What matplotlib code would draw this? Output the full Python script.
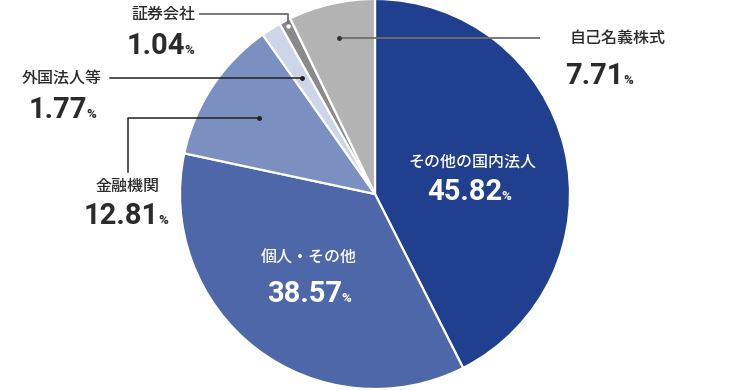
import numpy as np
import matplotlib
matplotlib.use("Agg")
import matplotlib.pyplot as plt

labels = ["その他の国内法人", "個人・その他", "金融機関", "外国法人等", "証券会社", "自己名義株式"]
values = [45.82, 38.57, 12.81, 1.77, 1.04, 7.71]
value_text = ["45.82", "38.57", "12.81", "1.77", "1.04", "7.71"]
colors = ["#213f8f", "#4e67a8", "#7b8fc0", "#cdd5e8", "#8a8a8a", "#b3b3b3"]

W, H = 750, 390
fig = plt.figure(figsize=(7.5, 3.9), dpi=100)
ax = fig.add_axes([0, 0, 1, 1])

cx, cy, R = 375, H - 194, 195
wedges, _ = ax.pie(values, colors=colors, startangle=90, counterclock=False,
                   center=(cx, cy), radius=R, frame=True,
                   wedgeprops=dict(edgecolor="white", linewidth=1.6))
ax.set_xlim(0, W)
ax.set_ylim(0, H)
ax.set_aspect("equal")
ax.axis("off")

LBL = dict(family=["Noto Sans CJK JP", "DejaVu Sans"], fontsize=11.5, fontweight="medium")
NUM = dict(family=["Roboto", "DejaVu Sans"], fontsize=21, fontweight="bold")
PCT = dict(family=["Roboto", "DejaVu Sans"], fontsize=9.5, fontweight="bold")


def Y(py):
    return H - py


def put(i, lx, ly, nx, ny, color):
    ax.text(lx, Y(ly), labels[i], color=color, ha="center", va="center", **LBL)
    base = Y(ny + 10.5)
    ax.text(nx, base, value_text[i], color=color, ha="right", va="baseline", **NUM)
    ax.text(nx - 1, base, "%", color=color, ha="left", va="baseline", **PCT)


def dot_pos(i, frac):
    w = wedges[i]
    mid = np.deg2rad((w.theta1 + w.theta2) / 2)
    return cx + frac * R * np.cos(mid), cy + frac * R * np.sin(mid)


# inner labels
put(0, 472, 162, 502, 190, "white")
put(1, 309, 258, 342, 291, "white")

dark = "#2b2b2b"
# 自己名義株式
dx, dy = dot_pos(5, 0.82)
ax.plot([dx, 540], [dy, dy], color="#6e6e6e", lw=1.3, solid_capstyle="butt")
ax.plot(dx, dy, "o", color="#333333", ms=2.5)
put(5, 618, H - dy, 624, 73, dark)

# 証券会社
dx, dy = dot_pos(4, 0.97)
ax.plot([200, dx, dx], [Y(14), Y(14), dy], color="#6e6e6e", lw=1.3)
ax.plot(dx, dy, "o", color="white", ms=2.2)
put(4, 163, 14, 185, 43, dark)

# 外国法人等
dx, dy = dot_pos(3, 0.70)
ax.plot([110, dx], [dy, dy], color="#222222", lw=1.1)
ax.plot(dx, dy, "o", color="#222222", ms=2.5)
put(3, 62, H - dy, 87, 107, dark)

# 金融機関
dx, dy = dot_pos(2, 0.71)
ax.plot([dx, 128, 128], [dy, dy, Y(172)], color="#222222", lw=1.1)
ax.plot(dx, dy, "o", color="#222222", ms=2.5)
put(2, 128, 186, 159, 214, dark)

fig.savefig("out.png", dpi=100)
